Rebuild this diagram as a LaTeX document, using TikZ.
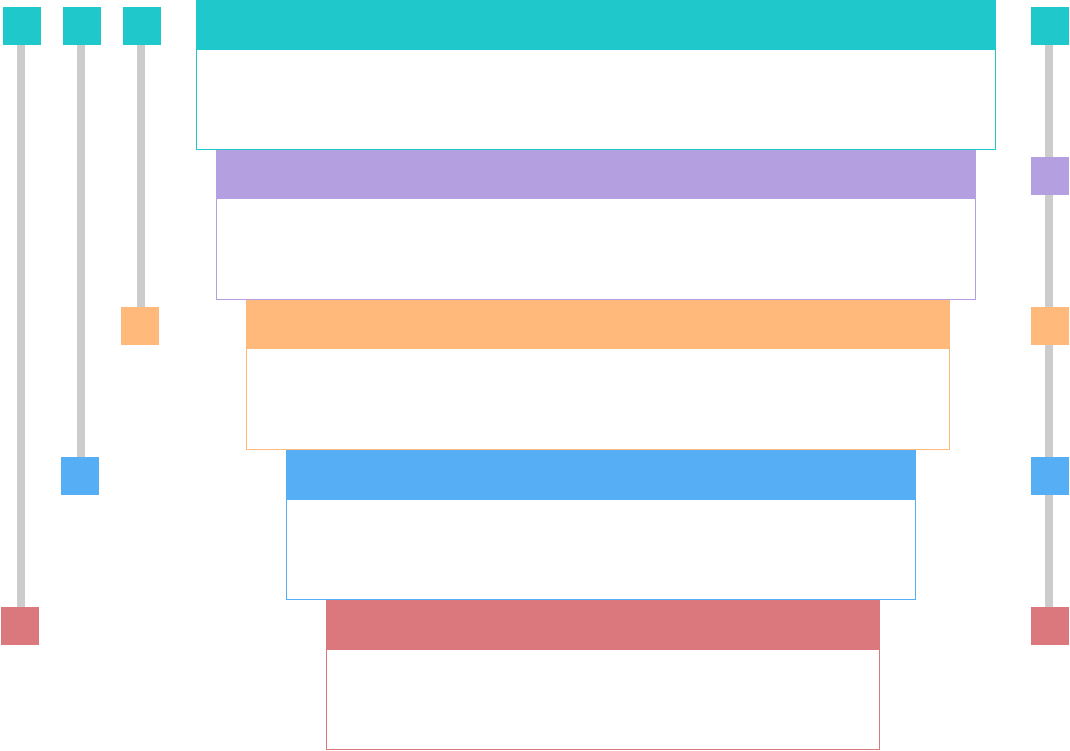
\documentclass[tikz,border=0pt]{standalone}
\definecolor{cteal}{RGB}{31,200,203}
\definecolor{cpurple}{RGB}{180,160,224}
\definecolor{corange}{RGB}{255,185,122}
\definecolor{cblue}{RGB}{86,174,245}
\definecolor{cred}{RGB}{219,120,126}
\definecolor{cgray}{RGB}{204,204,204}
\tikzset{
  bar/.style={draw=cgray,line width=8pt},
  sq/.style={fill=#1,draw=none,minimum size=38pt,inner sep=0pt,outer sep=0pt},
  panel/.style={draw=#1,line width=1pt,fill=white},
  head/.style={fill=#1,draw=none}
}
\begin{document}
\begin{tikzpicture}[x=1pt,y=-1pt]
\useasboundingbox (0,0) rectangle (1070,750);
% bars
\draw[bar] (21,45) -- (21,607);
\draw[bar] (81,45) -- (81,457);
\draw[bar] (141,45) -- (141,307);
\draw[bar] (1049,45) -- (1049,607);
% left squares
\node[sq=cteal] (l1) at (22,26) {};
\node[sq=cteal] (l2) at (82,26) {};
\node[sq=cteal] (l3) at (142,26) {};
\node[sq=corange] (l3e) at (140,326) {};
\node[sq=cblue] (l2e) at (80,476) {};
\node[sq=cred] (l1e) at (20,626) {};
% right squares
\node[sq=cteal] (r1) at (1050,26) {};
\node[sq=cpurple] (r2) at (1050,176) {};
\node[sq=corange] (r3) at (1050,326) {};
\node[sq=cblue] (r4) at (1050,476) {};
\node[sq=cred] (r5) at (1050,626) {};
% panels
\draw[panel=cteal] (196.5,0.5) rectangle (995.5,149.5);
\fill[head=cteal] (196,0) rectangle (996,50);
\draw[panel=cpurple] (216.5,150.5) rectangle (975.5,299.5);
\fill[head=cpurple] (216,150) rectangle (976,199);
\draw[panel=corange] (246.5,300.5) rectangle (949.5,449.5);
\fill[head=corange] (246,300) rectangle (950,349);
\draw[panel=cblue] (286.5,450.5) rectangle (915.5,599.5);
\fill[head=cblue] (286,450) rectangle (916,500);
\draw[panel=cred] (326.5,600.5) rectangle (879.5,749.5);
\fill[head=cred] (326,600) rectangle (880,650);
\end{tikzpicture}
\end{document}
